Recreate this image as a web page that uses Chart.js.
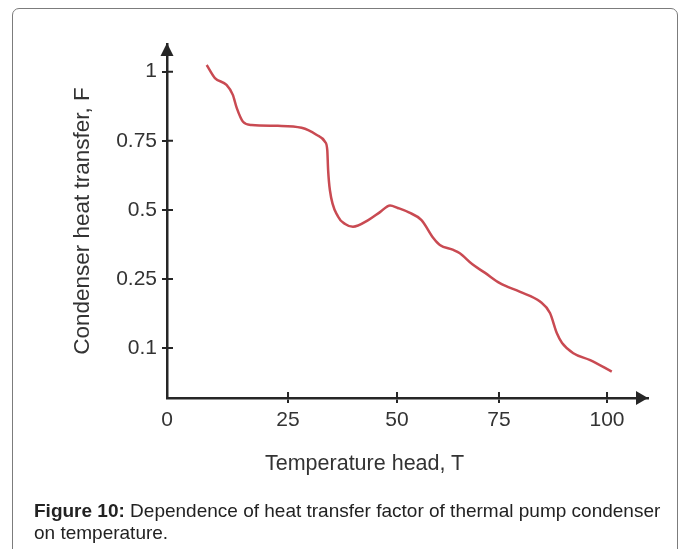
<!DOCTYPE html>
<html>
<head>
<meta charset="utf-8">
<script src="https://cdn.jsdelivr.net/npm/chart.js@4"></script>
<style>
  html, body { margin: 0; padding: 0; background: #fff; width: 682px; height: 549px; overflow: hidden; }
  #frame { position: absolute; left: 12px; top: 8px; width: 666px; height: 600px; border: 1.5px solid #7c7c7c; border-radius: 7px; box-sizing: border-box; }
  #chart { position: absolute; left: 0; top: 0; }
  #xtitle { position: absolute; left: 265px; top: 450px; font-family: "Liberation Sans", Arial, sans-serif; font-size: 21.5px; line-height: 26px; color: #333; white-space: nowrap; }
  #caption { position: absolute; left: 34px; top: 500px; width: 632px; font-family: "Liberation Sans", Arial, sans-serif; font-size: 19px; line-height: 22px; color: #222; }
  #caption b { font-weight: bold; }
</style>
</head>
<body>
<div id="frame"></div>
<canvas id="chart" width="682" height="549"></canvas>
<div id="xtitle">Temperature head, T</div>
<div id="caption"><b>Figure 10:</b> Dependence of heat transfer factor of thermal pump condenser on temperature.</div>
<script>
// ---- data ----
const tempHead = [8.2, 9.9, 12.3, 13.6, 14.4, 15.7, 17.5, 22.9, 28.1, 31.6, 33.5, 34.0, 34.2, 34.6, 36.5, 38.1, 39.9, 43.4, 46.1, 48.4, 50.2, 52.9, 56.0, 58.9, 60.5, 63.8, 65.4, 68.4, 71.6, 75.2, 79.9, 84.5, 86.8, 88.4, 89.6, 92.2, 96.1, 101.1];
const heatFactor = [1.024, 0.977, 0.952, 0.916, 0.869, 0.819, 0.807, 0.804, 0.797, 0.771, 0.746, 0.717, 0.644, 0.572, 0.475, 0.449, 0.439, 0.463, 0.492, 0.516, 0.507, 0.491, 0.463, 0.398, 0.373, 0.355, 0.343, 0.304, 0.272, 0.241, 0.222, 0.201, 0.176, 0.132, 0.111, 0.089, 0.074, 0.049];
const xTickValues = [0, 25, 50, 75, 100];
const xTickLabels = ['0', '25', '50', '75', '100'];
const yTickValues = [0.1, 0.25, 0.5, 0.75, 1];
const yTickLabels = ['0.1', '0.25', '0.5', '0.75', '1'];

// The printed axes are not evenly scaled; this scale places values
// piecewise-linearly between the printed tick marks.
class KnotScale extends Chart.LinearScale {
  static id = 'knot';
  static defaults = {};
  _seg(list, key, v) {
    let i = 0;
    while (i < list.length - 2 && v > list[i + 1][key]) i++;
    return i;
  }
  getPixelForValue(value) {
    const k = this.options.knots;
    const i = this._seg(k, 0, value);
    const [v0, d0] = k[i], [v1, d1] = k[i + 1];
    return this.getPixelForDecimal(d0 + (value - v0) / (v1 - v0) * (d1 - d0));
  }
  getValueForPixel(pixel) {
    const k = this.options.knots;
    const d = this.getDecimalForPixel(pixel);
    const i = this._seg(k, 1, d);
    const [v0, d0] = k[i], [v1, d1] = k[i + 1];
    return v0 + (d - d0) / (d1 - d0) * (v1 - v0);
  }
  buildTicks() {
    return this.options.tickValues.map(v => ({ value: v }));
  }
}
Chart.register(KnotScale);

const AXIS = '#262626';
const TEXT = '#333333';
const FONT = '"Liberation Sans", Arial, sans-serif';

const axisDecor = {
  id: 'axisDecor',
  afterDraw(chart) {
    const { ctx, chartArea: a, scales: { x, y } } = chart;
    ctx.save();
    ctx.fillStyle = AXIS;
    ctx.beginPath();
    ctx.moveTo(a.left, a.top - 1);
    ctx.lineTo(a.left - 6.5, a.top + 12);
    ctx.lineTo(a.left + 6.5, a.top + 12);
    ctx.closePath();
    ctx.fill();
    ctx.beginPath();
    ctx.moveTo(a.right, a.bottom);
    ctx.lineTo(a.right - 12, a.bottom - 7);
    ctx.lineTo(a.right - 12, a.bottom + 7);
    ctx.closePath();
    ctx.fill();
    ctx.strokeStyle = AXIS;
    ctx.lineWidth = 2;
    ctx.beginPath();
    y.ticks.forEach((t, i) => { const p = y.getPixelForTick(i); ctx.moveTo(a.left, p); ctx.lineTo(a.left + 6, p); });
    x.ticks.forEach((t, i) => { if (t.value === 0) return; const p = x.getPixelForTick(i); ctx.moveTo(p, a.bottom); ctx.lineTo(p, a.bottom - 6); });
    ctx.stroke();
    ctx.restore();
  }
};

new Chart(document.getElementById('chart'), {
  type: 'line',
  data: {
    datasets: [{
      data: tempHead.map((t, i) => ({ x: t, y: heatFactor[i] })),
      borderColor: '#c94a52',
      borderWidth: 2.5,
      pointRadius: 0,
      fill: false,
      cubicInterpolationMode: 'monotone'
    }]
  },
  options: {
    responsive: false,
    animation: false,
    events: [],
    layout: { padding: { left: 0, top: 44, right: 34, bottom: 0 } },
    plugins: { legend: { display: false }, tooltip: { enabled: false } },
    scales: {
      x: {
        type: 'knot',
        min: 0, max: 109.5,
        knots: [[0, 0], [25, 0.2516], [50, 0.4782], [75, 0.6902], [100, 0.9148], [109.5, 1]],
        tickValues: xTickValues,
        afterFit: s => { s.height = 151; },
        border: { display: true, color: AXIS, width: 2.5 },
        grid: { display: true, drawOnChartArea: false, drawTicks: true, tickLength: 5, lineWidth: 2,
                color: c => (c.tick && c.tick.value === 0) ? 'rgba(0,0,0,0)' : AXIS },
        ticks: { autoSkip: false, maxRotation: 0, padding: 5, color: TEXT, font: { family: FONT, size: 21 },
                 callback: (v, i) => xTickLabels[i] },
        title: { display: false }
      },
      y: {
        type: 'knot',
        min: -0.008, max: 1.1,
        knots: [[-0.008, 0], [0.1, 0.141], [0.25, 0.3362], [0.5, 0.5314], [0.75, 0.7266], [1, 0.9218], [1.1, 1]],
        tickValues: yTickValues,
        afterFit: s => { s.width = 167; },
        border: { display: true, color: AXIS, width: 2.5 },
        grid: { display: true, drawOnChartArea: false, drawTicks: true, tickLength: 5, lineWidth: 2, color: AXIS },
        ticks: { autoSkip: false, padding: 5, color: TEXT, font: { family: FONT, size: 21 },
                 callback: (v, i) => yTickLabels[i] },
        title: { display: true, text: 'Condenser heat transfer, F', color: TEXT, font: { family: FONT, size: 22.5 },
                 padding: { top: 69.5, bottom: 0 } }
      }
    }
  },
  plugins: [axisDecor]
});
</script>
</body>
</html>
